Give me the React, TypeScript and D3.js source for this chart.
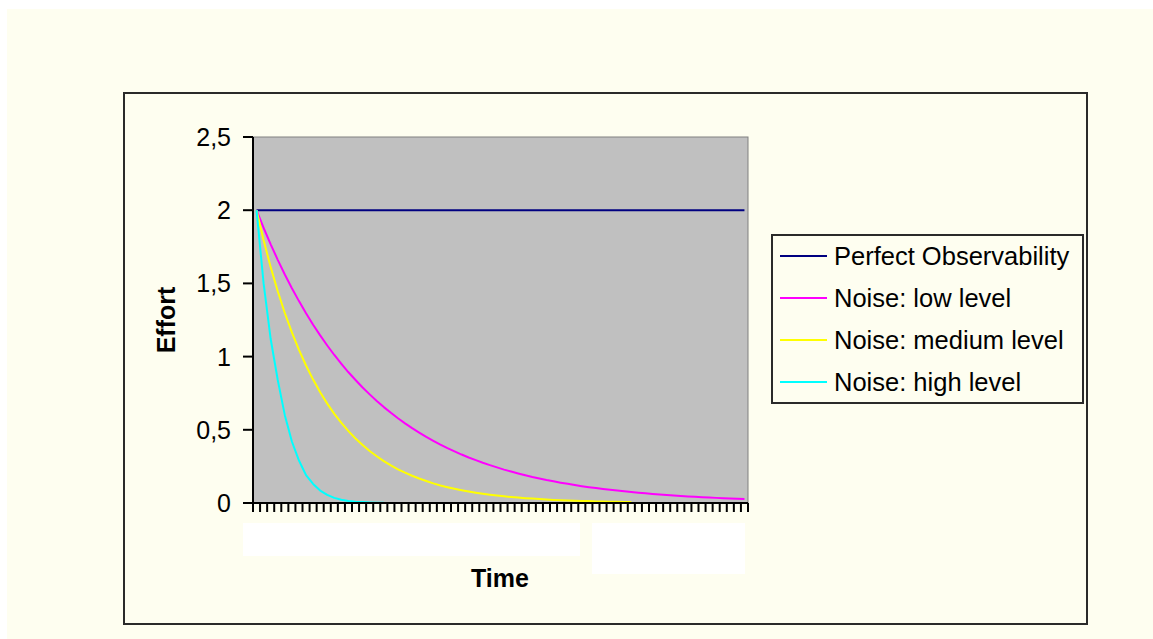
import React from 'react';
import * as d3 from 'd3';

const W = 1153;
const H = 639;

const categories = [
  1, 2, 3, 4, 5, 6, 7, 8, 9, 10, 11, 12, 13, 14, 15, 16, 17, 18, 19, 20,
  21, 22, 23, 24, 25, 26, 27, 28, 29, 30, 31, 32, 33, 34, 35, 36, 37, 38, 39, 40,
  41, 42, 43, 44, 45, 46, 47, 48, 49, 50, 51, 52, 53, 54, 55, 56, 57, 58, 59, 60,
  61, 62, 63, 64, 65, 66, 67, 68, 69, 70,
];

const perfectObservability = [
  2, 2, 2, 2, 2, 2, 2, 2, 2, 2, 2, 2, 2, 2, 2, 2, 2, 2, 2, 2,
  2, 2, 2, 2, 2, 2, 2, 2, 2, 2, 2, 2, 2, 2, 2, 2, 2, 2, 2, 2,
  2, 2, 2, 2, 2, 2, 2, 2, 2, 2, 2, 2, 2, 2, 2, 2, 2, 2, 2, 2,
  2, 2, 2, 2, 2, 2, 2, 2, 2, 2,
];

const noiseLow = [
  2, 1.88, 1.767, 1.661, 1.561, 1.467, 1.379, 1.296, 1.218, 1.145,
  1.076, 1.011, 0.951, 0.893, 0.84, 0.789, 0.742, 0.697, 0.655, 0.616,
  0.579, 0.544, 0.511, 0.481, 0.452, 0.425, 0.399, 0.375, 0.353, 0.331,
  0.311, 0.293, 0.275, 0.259, 0.243, 0.228, 0.215, 0.202, 0.19, 0.178,
  0.168, 0.157, 0.148, 0.139, 0.131, 0.123, 0.115, 0.108, 0.102, 0.096,
  0.09, 0.085, 0.08, 0.075, 0.07, 0.066, 0.062, 0.058, 0.055, 0.051,
  0.048, 0.045, 0.043, 0.04, 0.038, 0.035, 0.033, 0.031, 0.029, 0.028,
];

const noiseMedium = [
  2, 1.795, 1.611, 1.446, 1.298, 1.165, 1.046, 0.939, 0.843, 0.756,
  0.679, 0.609, 0.547, 0.491, 0.441, 0.396, 0.355, 0.319, 0.286, 0.257,
  0.23, 0.207, 0.186, 0.167, 0.15, 0.134, 0.12, 0.108, 0.097, 0.087,
  0.078, 0.07, 0.063, 0.057, 0.051, 0.046, 0.041, 0.037, 0.033, 0.03,
  0.027, 0.024, 0.021, 0.019, 0.017, 0.015, 0.014, 0.013, 0.011, 0.01,
  0.009, 0.008, 0.007, 0.006,
];

const noiseHigh = [
  2, 1.5, 1.12, 0.84, 0.6, 0.42, 0.29, 0.19, 0.13, 0.085,
  0.055, 0.035, 0.022, 0.014, 0.009, 0.006, 0.004, 0.002, 0.001,
];

const seriesNames = [
  'Perfect Observability',
  'Noise: low level',
  'Noise: medium level',
  'Noise: high level',
];
const seriesData = [perfectObservability, noiseLow, noiseMedium, noiseHigh];
const seriesColors = ['#000080', '#FF00FF', '#FFFF00', '#00FFFF'];

const yTickValues = [0, 0.5, 1, 1.5, 2, 2.5];
const yTickLabels = ['0', '0,5', '1', '1,5', '2', '2,5'];

const FONT = '"Liberation Sans", Arial, sans-serif';

export default function App() {
  const plot = { left: 253, right: 748, top: 137, bottom: 503 };

  const x = d3
    .scaleBand<number>()
    .domain(categories)
    .range([plot.left, plot.right])
    .paddingInner(0)
    .paddingOuter(0);
  const y = d3.scaleLinear().domain([0, 2.5]).range([plot.bottom, plot.top]);

  const line = d3
    .line<number>()
    .x((_, i) => (x(categories[i]) as number) + x.bandwidth() / 2)
    .y((d) => y(d));

  const xTickPositions = [...categories.map((c) => x(c) as number), plot.right];

  const legend = { left: 772, top: 235, right: 1083, bottom: 403 };
  const rowH = (legend.bottom - legend.top) / seriesNames.length;

  return (
    <svg
      width={W}
      height={H}
      style={{ position: 'absolute', left: 0, top: 0, background: '#ffffff' }}
    >
      <rect x={7} y={9} width={W - 7} height={H - 9} fill="#FEFEF0" />
      {/* chart outer border */}
      <rect x={124} y={93} width={963} height={531} fill="none" stroke="#2a2a2a" strokeWidth={2} />

      {/* plot area */}
      <rect
        x={plot.left}
        y={plot.top}
        width={plot.right - plot.left}
        height={plot.bottom - plot.top}
        fill="#C0C0C0"
        stroke="#808080"
        strokeWidth={1}
      />

      {/* erased label boxes */}
      <rect x={243} y={523} width={337} height={33} fill="#ffffff" />
      <rect x={592} y={523} width={153} height={51} fill="#ffffff" />

      {/* series */}
      {seriesData.map((data, si) => (
        <path
          key={seriesNames[si]}
          d={line(data) || ''}
          fill="none"
          stroke={seriesColors[si]}
          strokeWidth={2}
          strokeLinejoin="round"
        />
      ))}

      {/* y axis */}
      <line x1={plot.left} x2={plot.left} y1={plot.top} y2={plot.bottom} stroke="#000" strokeWidth={2} />
      {yTickValues.map((v, i) => (
        <g key={v}>
          <line x1={plot.left - 10} x2={plot.left} y1={y(v)} y2={y(v)} stroke="#000" strokeWidth={2} />
          <text
            x={plot.left - 22}
            y={y(v)}
            textAnchor="end"
            dominantBaseline="central"
            fontFamily={FONT}
            fontSize={25}
            fill="#000"
          >
            {yTickLabels[i]}
          </text>
        </g>
      ))}

      {/* x axis */}
      <line x1={plot.left} x2={plot.right} y1={plot.bottom} y2={plot.bottom} stroke="#000" strokeWidth={2} />
      {xTickPositions.map((px, i) => (
        <line key={i} x1={px} x2={px} y1={plot.bottom} y2={plot.bottom + 9} stroke="#000" strokeWidth={2} />
      ))}

      {/* axis titles */}
      <text
        x={500}
        y={578}
        textAnchor="middle"
        dominantBaseline="central"
        fontFamily={FONT}
        fontWeight="bold"
        fontSize={25}
        fill="#000"
      >
        Time
      </text>
      <text
        transform={`translate(166,${(plot.top + plot.bottom) / 2}) rotate(-90)`}
        textAnchor="middle"
        dominantBaseline="central"
        fontFamily={FONT}
        fontWeight="bold"
        fontSize={25}
        fill="#000"
      >
        Effort
      </text>

      {/* legend */}
      <rect
        x={legend.left}
        y={legend.top}
        width={legend.right - legend.left}
        height={legend.bottom - legend.top}
        fill="#FEFEF0"
        stroke="#2a2a2a"
        strokeWidth={2}
      />
      {seriesNames.map((name, i) => {
        const cy = legend.top + rowH * (i + 0.5);
        return (
          <g key={name}>
            <line x1={780} x2={827} y1={cy} y2={cy} stroke={seriesColors[i]} strokeWidth={2} />
            <text
              x={834}
              y={cy}
              dominantBaseline="central"
              fontFamily={FONT}
              fontSize={25.5}
              fill="#000"
            >
              {name}
            </text>
          </g>
        );
      })}
    </svg>
  );
}
